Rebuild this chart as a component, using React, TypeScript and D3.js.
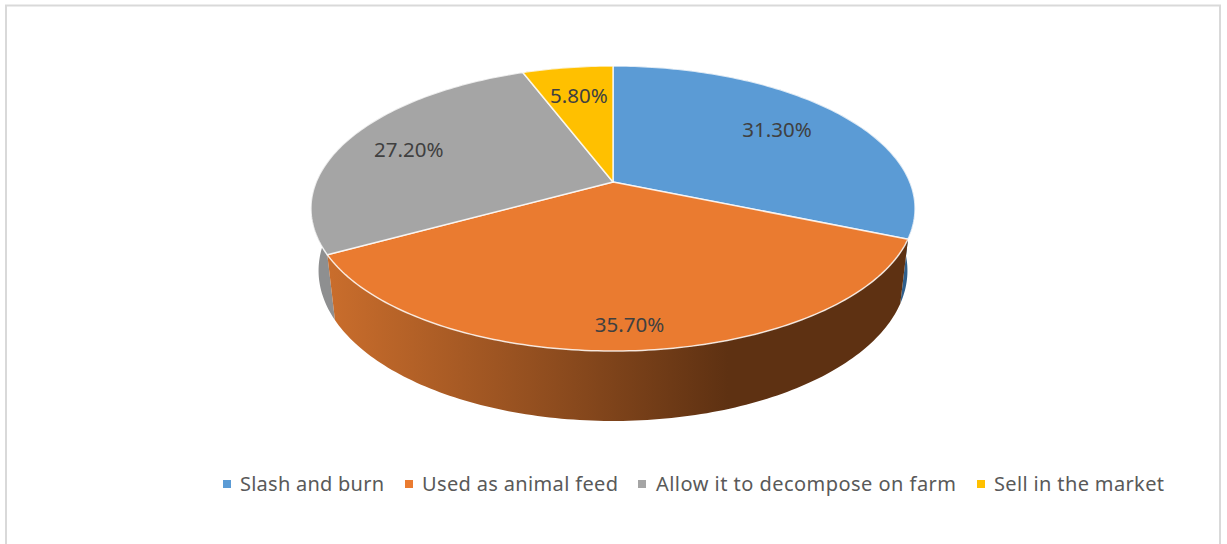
import React from "react";
import * as d3 from "d3";

const categories = ["Slash and burn", "Used as animal feed", "Allow it to decompose on farm", "Sell in the market"];
const values = [31.3, 35.7, 27.2, 5.8];
const valueLabels = ["31.30%", "35.70%", "27.20%", "5.80%"];
const topColors = ["#5B9BD5", "#EA7B30", "#A5A5A5", "#FFC000"];
const labelRadius = [0.713, 0.872, 0.769, 0.719];
const labelShiftY = [-2, 0, 2, 0];
const legendSwatchX = [223, 405, 638, 977];
const legendTextX = [240, 422, 656, 994];
const legendTextW = [144, 196, 300, 170];

const W = 1227, H = 544;
const CX = 613, CY = 182;
const A = 137.6, B = 296.8, K = 0.186;
const WALL_Y = 62.9, WALL_W = 0.025;
const FONT = "'Noto Sans', 'Open Sans', sans-serif";

// perspective projection of the pie's unit disc (depth = 0 top face, 1 bottom face)
function project(r: number, angle: number, depth = 0): [number, number] {
  const u = r * Math.sin(angle);
  const v = -r * Math.cos(angle);
  const den = 1 - K * v + WALL_W * depth;
  return [CX + (B * u) / den, CY + (A * v + WALL_Y * depth) / den];
}

const pieGen = d3.pie<number>().sort(null).value((d) => d);
const arcs = pieGen(values);
const line = d3.line();

function arcPoints(a0: number, a1: number, depth: number): [number, number][] {
  const n = Math.max(4, Math.ceil(((a1 - a0) * 180) / Math.PI));
  return d3.range(n + 1).map((i) => project(1, a0 + ((a1 - a0) * i) / n, depth));
}

function topPath(a0: number, a1: number) {
  return line([[CX, CY], ...arcPoints(a0, a1, 0)]) + "Z";
}
function wallPath(a0: number, a1: number) {
  return line([...arcPoints(a0, a1, 0), ...arcPoints(a0, a1, 1).reverse()]) + "Z";
}

const wallFills = ["#2F5F8C", "url(#orangeWall)", "#8E8F90", "#A07800"];
const wallOrder = [3, 0, 2, 1];

export default function App() {
  return (
    <svg width={W} height={H} style={{ position: "absolute", left: 0, top: 0, background: "#fff" }}>
      <defs>
        <linearGradient id="orangeWall" gradientUnits="userSpaceOnUse" x1={330} x2={728} y1={0} y2={0}>
          <stop offset="0" stopColor="#C96D2C" />
          <stop offset="0.5" stopColor="#955020" />
          <stop offset="1" stopColor="#5E3112" />
        </linearGradient>
      </defs>
      <path d={`M6 ${H}V5.5H1220V${H}`} fill="none" stroke="#D9D9D9" strokeWidth={2} />
      {wallOrder.map((i) => (
        <path key={i} d={wallPath(arcs[i].startAngle, arcs[i].endAngle)} fill={wallFills[i]} />
      ))}
      {arcs.map((a, i) => (
        <path
          key={i}
          d={topPath(a.startAngle, a.endAngle)}
          fill={topColors[i]}
          stroke="#fff"
          strokeOpacity={0.8}
          strokeWidth={1.5}
          strokeLinejoin="round"
        />
      ))}
      {arcs.map((a, i) => {
        const [x, y] = project(labelRadius[i], (a.startAngle + a.endAngle) / 2);
        return (
          <text key={i} x={x} y={y + labelShiftY[i]} dy="0.36em" textAnchor="middle" fontFamily={FONT} fontSize={20.5} fill="#404040">
            {valueLabels[i]}
          </text>
        );
      })}
      {categories.map((c, i) => (
        <g key={c}>
          <rect x={legendSwatchX[i]} y={480} width={8} height={8} fill={topColors[i]} />
          <text
            x={legendTextX[i]}
            y={491}
            fontFamily={FONT}
            fontSize={20}
            fill="#595959"
            textLength={legendTextW[i]}
            lengthAdjust="spacing"
          >
            {c}
          </text>
        </g>
      ))}
    </svg>
  );
}
